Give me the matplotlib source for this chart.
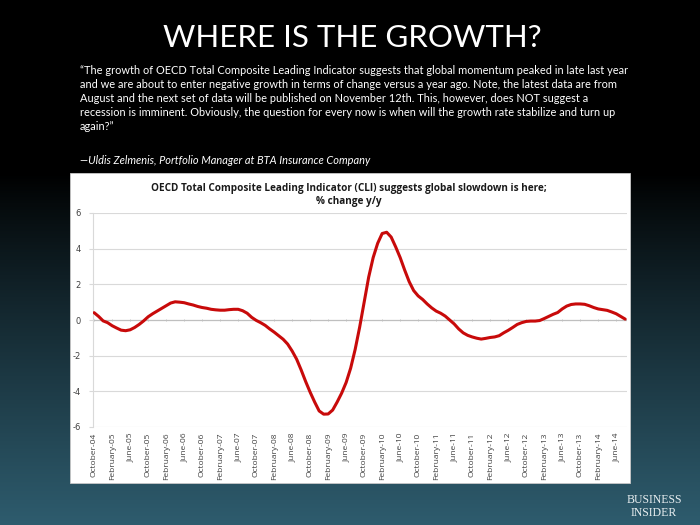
import numpy as np
import matplotlib
matplotlib.use("Agg")
import matplotlib.pyplot as plt
from matplotlib.patches import Rectangle

# OECD CLI, % change y/y, monthly Oct-04 .. Aug-14
cli = [0.41, 0.20, -0.05, -0.15, -0.32, -0.45, -0.57, -0.60, -0.55, -0.42,
       -0.25, -0.05, 0.18, 0.35, 0.50, 0.65, 0.80, 0.95, 1.02, 1.00,
       0.97, 0.90, 0.84, 0.76, 0.70, 0.66, 0.60, 0.57, 0.55, 0.55,
       0.58, 0.60, 0.60, 0.52, 0.38, 0.15, -0.02, -0.15, -0.30, -0.50,
       -0.68, -0.88, -1.08, -1.35, -1.74, -2.20, -2.80, -3.45, -4.05, -4.60,
       -5.10, -5.28, -5.27, -5.05, -4.60, -4.10, -3.50, -2.70, -1.65, -0.40,
       1.00, 2.40, 3.50, 4.30, 4.85, 4.92, 4.65, 4.10, 3.50, 2.80,
       2.15, 1.65, 1.35, 1.15, 0.90, 0.68, 0.50, 0.38, 0.22, 0.00,
       -0.22, -0.50, -0.72, -0.86, -0.95, -1.02, -1.07, -1.03, -0.98, -0.95,
       -0.88, -0.72, -0.58, -0.42, -0.25, -0.15, -0.08, -0.06, -0.06, -0.03,
       0.08, 0.20, 0.32, 0.42, 0.62, 0.78, 0.87, 0.90, 0.90, 0.88,
       0.80, 0.70, 0.62, 0.58, 0.54, 0.45, 0.35, 0.20, 0.05]

years = ["05", "06", "07", "08", "09", "10", "11", "12", "13", "14"]
# every 4th month: Oct-04, Feb-05, Jun-05, Oct-05, ... Jun-14
tick_labels = ["October-04"] + [f"{mn}-{yr}" for yr in years for mn in ["February", "June", "October"]]
tick_labels = tick_labels[:30]
yticks = [6, 4, 2, 0, -2, -4, -6]

title = "WHERE IS THE GROWTH?"
quote = ("\u201cThe growth of OECD Total Composite Leading Indicator suggests that global momentum peaked in late last year\n"
         "and we are about to enter negative growth in terms of change versus a year ago. Note, the latest data are from\n"
         "August and the next set of data will be published on November 12th. This, however, does NOT suggest a\n"
         "recession is imminent. Obviously, the question for every now is when will the growth rate stabilize and turn up\n"
         "again?\u201d")
author = "\u2014Uldis Zelmenis, Portfolio Manager at BTA Insurance Company"
chart_title = "OECD Total Composite Leading Indicator (CLI) suggests global slowdown is here;\n% change y/y"

W, H = 700, 525
fig = plt.figure(figsize=(7, 5.25), dpi=100)

# background gradient: black on top, dark teal at the bottom
bg = fig.add_axes([0, 0, 1, 1])
t = np.linspace(0, 1, 256)
ramp = np.clip((t - 0.33) / 0.67, 0, 1) ** 0.9
top = np.array([0.0, 0.0, 0.0])
bot = np.array([0.18, 0.36, 0.43])
grad = top[None, :] * (1 - ramp[:, None]) + bot[None, :] * ramp[:, None]
bg.imshow(grad[:, None, :], aspect="auto", extent=[0, 1, 0, 1])
bg.set_xlim(0, 1)
bg.set_ylim(0, 1)
bg.axis("off")

# white chart panel
bg.add_patch(Rectangle((70 / W, 1 - 483 / H), 560 / W, 310 / H, facecolor="white",
                       edgecolor="#c8c8c8", lw=0.6, zorder=2))

fig.text(352 / W, 1 - 38 / H, title, color="white", fontsize=22.5, family="Lato",
         ha="center", va="center")
fig.text(80 / W, 1 - 65 / H, quote, color="white", fontsize=7.9, family="Lato",
         ha="left", va="top", linespacing=1.32)
fig.text(80 / W, 1 - 160 / H, author, color="white", fontsize=7.9, family="Lato",
         style="italic", ha="left", va="center")
fig.text(349 / W, 1 - 195 / H, chart_title, color="#1a1a1a", fontsize=7.2,
         family="Open Sans", weight="bold", ha="center", va="center", linespacing=1.3)

fig.text(654 / W, 1 - 500 / H, "BUSINESS", color="#e8eef0", fontsize=8.5,
         family="Liberation Serif", ha="center", va="center")
fig.text(654 / W, 1 - 513 / H, "INSIDER", color="#e8eef0", fontsize=8.5,
         family="Liberation Serif", ha="center", va="center")

ax = fig.add_axes([93 / W, 1 - 427 / H, (627 - 93) / W, (427 - 213) / H])
ax.set_facecolor("white")
x = np.arange(len(cli))
ax.plot(x, cli, color="#c80a0a", lw=2.2, solid_capstyle="round", zorder=3)
ax.set_ylim(-6, 6)
ax.set_xlim(-0.25, 118.4)
ax.set_yticks(yticks)
ax.set_yticklabels([str(v) for v in yticks])
for v in yticks:
    if v != 0:
        ax.axhline(v, color="#d9d9d9", lw=0.8, zorder=1)
ax.axhline(0, color="#bfbfbf", lw=0.9, zorder=2)
tick_pos = np.arange(0, len(cli), 4)[:len(tick_labels)]
ax.vlines(tick_pos, -0.08, 0.08, color="#bfbfbf", lw=0.6, zorder=2)
ax.set_xticks(tick_pos)
ax.set_xticklabels(tick_labels, rotation=90, fontsize=6, color="#404040",
                   family="Open Sans")
ax.tick_params(axis="x", length=0, pad=4)
ax.tick_params(axis="y", length=3, color="#d9d9d9", labelsize=6, labelcolor="#404040", pad=6)
for s in ["top", "right", "bottom"]:
    ax.spines[s].set_visible(False)
ax.spines["left"].set_color("#d9d9d9")

fig.savefig("out.png", dpi=100, facecolor="black")
